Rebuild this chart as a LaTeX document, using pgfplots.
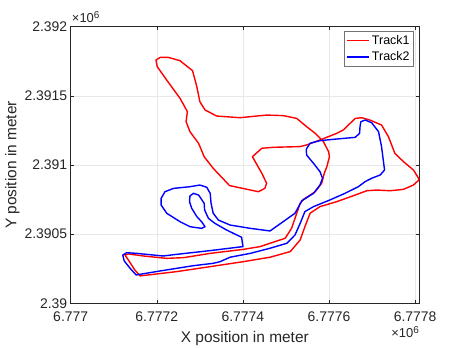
\documentclass[border=0pt]{standalone}
\usepackage{fontspec}
\setmainfont{Liberation Sans}
\usepackage{pgfplots}
\pgfplotsset{compat=1.18}
\definecolor{axgray}{rgb}{0.15,0.15,0.15}

\begin{document}
\begin{tikzpicture}
% positions in metres: x east of 6777000, y north of 2390000
\begin{axis}[
    scale only axis,
    width=348.3bp, height=276.6bp,
    xmin=0, xmax=809, ymin=0, ymax=2000,
    xtick={0,200,400,600,800},
    xticklabels={6.777,6.7772,6.7774,6.7776,6.7778},
    ytick={0,500,1000,1500,2000},
    yticklabels={2.39,2.3905,2.391,2.3915,2.392},
    tick align=inside,
    major tick length=3.5bp,
    axis line style={axgray, line width=0.5bp},
    every tick/.style={axgray, line width=0.5bp},
    grid=major,
    major grid style={black!9, line width=0.5bp},
    tick label style={font=\fontsize{14}{16}\selectfont, text=axgray},
    xticklabel style={yshift=-5bp},
    label style={font=\fontsize{15.5}{18}\selectfont, text=axgray},
    xlabel={X position in meter},
    ylabel={Y position in meter},
    xlabel style={yshift=-3bp},
    ylabel style={yshift=-2bp},
    legend style={at={(0.985,0.985)}, anchor=north east, draw=black!55,
        font=\fontsize{12.5}{14}\selectfont, inner sep=2bp,
        row sep=2bp, cells={anchor=west}},
    legend image code/.code={\draw[#1, line width=1.4bp] (0bp,0bp) -- (22bp,0bp);},
    clip=false,
]

\addplot[red, line width=1.4bp, line join=round] coordinates {
(809,892) (796,855) (773,824) (742,814) (711,819) (688,814) (661,783)
(618,735) (579,699) (556,651) (544,554) (533,458) (510,374) (463,333)
(401,301) (324,265) (246,229) (161,198) (149,241) (134,313) (126,349)
(134,357) (169,342) (223,325) (262,330) (324,361) (401,390) (440,410)
(463,434) (498,470) (513,542) (525,651) (533,723) (541,752) (568,807)
(583,868) (589,940) (595,988) (601,1060) (599,1096) (587,1169) (568,1229)
(548,1277) (525,1337) (494,1357) (455,1361) (393,1342) (339,1354)
(312,1398) (300,1458) (293,1566) (283,1682) (254,1754) (227,1778)
(208,1778) (198,1759) (201,1711) (223,1614) (254,1482) (271,1386)
(268,1313) (277,1241) (297,1157) (310,1060) (331,976) (369,851)
(436,807) (451,831) (455,868) (444,940) (422,1060) (444,1121) (471,1128)
(533,1133) (548,1145) (579,1181) (618,1229) (633,1253) (649,1301)
(661,1337) (676,1342) (695,1325) (722,1289) (738,1205) (753,1084)
(773,1024) (796,964) (808,904) (809,892)
};
\addlegendentry{Track1}

\addplot[blue, line width=1.4bp, line join=round] coordinates {
(729,964) (726,1036) (722,1133) (715,1241) (699,1306) (684,1325)
(674,1313) (672,1277) (671,1229) (661,1200) (618,1188) (579,1176)
(556,1157) (547,1113) (548,1072) (564,1012) (579,952) (585,904)
(579,855) (564,795) (537,742) (521,651) (463,523) (417,542) (370,566)
(343,602) (331,651) (326,723) (324,795) (316,839) (300,855) (277,843)
(239,831) (219,807) (210,759) (210,711) (223,651) (254,590) (277,554)
(304,542) (312,554) (304,590) (293,627) (281,687) (276,735) (277,776)
(285,795) (297,783) (306,742) (310,723) (311,675) (320,614) (335,578)
(362,530) (397,477) (400,410) (324,381) (246,354) (215,342) (153,361)
(130,366) (121,349) (124,308) (138,253) (152,205) (208,234) (285,272)
(331,289) (347,301) (370,333) (417,361) (463,398) (502,434) (521,494)
(533,578) (544,663) (564,699) (602,747) (637,795) (668,843) (684,880)
(699,904) (719,928) (729,964)
};
\addlegendentry{Track2}

\node[anchor=base west, inner sep=0pt, text=axgray, font=\fontsize{13}{15}\selectfont]
    at (rel axis cs:0.003,1.015) {×10\raisebox{0.6ex}{\fontsize{10}{11}\selectfont 6}};
\node[anchor=base east, inner sep=0pt, text=axgray, font=\fontsize{13}{15}\selectfont]
    at (rel axis cs:1.0,-0.125) {×10\raisebox{0.6ex}{\fontsize{10}{11}\selectfont 6}};
\end{axis}
\pgfresetboundingbox
\path (-70.7bp,-44.7bp) rectangle (392.3bp,303.3bp);
\end{tikzpicture}
\end{document}
